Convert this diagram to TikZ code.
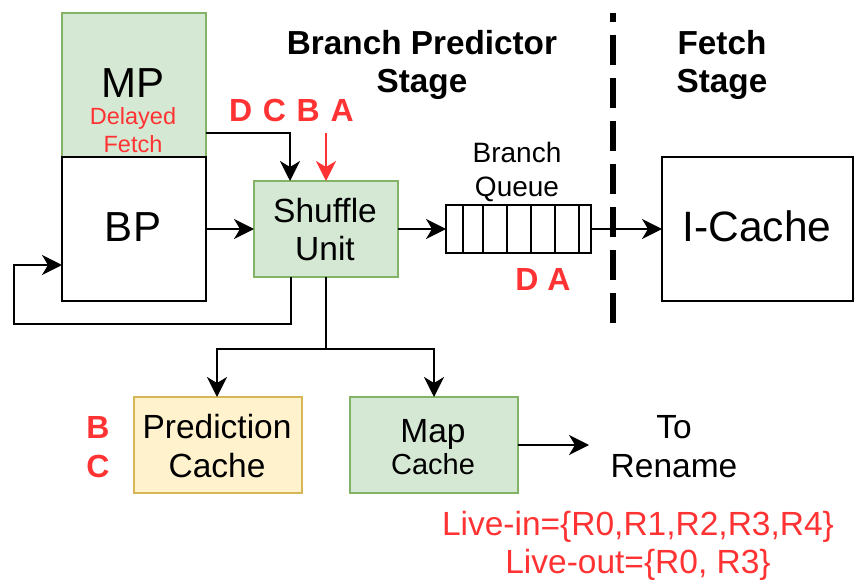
\documentclass[tikz,border=0pt]{standalone}
\usepackage{fontspec}
\setmainfont{Liberation Sans}
\usetikzlibrary{arrows.meta}
\definecolor{gfill}{HTML}{D5E8D4}
\definecolor{gline}{HTML}{82B366}
\definecolor{yfill}{HTML}{FFF2CC}
\definecolor{yline}{HTML}{D6B656}
\definecolor{redtxt}{HTML}{FF3333}
\tikzset{
  box/.style={draw=black, line width=2pt, minimum width=#1, inner sep=0pt, outer sep=0pt},
  gbox/.style={draw=gline, fill=gfill, line width=2pt, inner sep=0pt, outer sep=0pt},
  ybox/.style={draw=yline, fill=yfill, line width=2pt, inner sep=0pt, outer sep=0pt},
  conn/.style={line width=2pt, -{Stealth[length=20pt,width=20pt,inset=6pt]}},
  wire/.style={line width=2pt},
  txt/.style={inner sep=0pt, anchor=base},
  big/.style={txt, font=\fontsize{42}{48}\selectfont},
  mid/.style={txt, font=\fontsize{33.5}{38}\selectfont},
  redbold/.style={txt, text=redtxt, font=\fontsize{32}{37}\selectfont\bfseries},
  title/.style={txt, font=\fontsize{33.3}{38}\selectfont\bfseries},
}
\begin{document}
\begin{tikzpicture}[x=1pt,y=-1pt]
\useasboundingbox (0,0) rectangle (854,580);
% boxes
\node[gbox, minimum width=144pt, minimum height=144pt] (mp) at (134,85) {};
\node[box=144pt, minimum height=144pt] (bp) at (134,229) {};
\node[gbox, minimum width=144pt, minimum height=96pt] (su) at (326,229) {};
\node[box=145pt, minimum height=48pt] (bq) at (518.5,229) {};
\node[box=191pt, minimum height=144pt] (ic) at (757.5,229) {};
\node[ybox, minimum width=168pt, minimum height=96pt] (pc) at (218,445) {};
\node[gbox, minimum width=168pt, minimum height=96pt] (mc) at (434,445) {};
% queue dividers
\foreach \xx in {463,483,507,531,555,579}
  \draw[line width=2pt] (\xx,205) -- (\xx,253);
% texts
\node[big] (mpt) at (133,98) {MP};
\node[txt, text=redtxt, font=\fontsize{23.5}{27}\selectfont] (dl1) at (133,125) {Delayed};
\node[txt, text=redtxt, font=\fontsize{23.5}{27}\selectfont] (dl2) at (133,153) {Fetch};
\node[big] (bpt) at (133,242) {BP};
\node[mid] (su1) at (325,223) {Shuffle};
\node[mid] (su2) at (325,260) {Unit};
\node[big, font=\fontsize{42.5}{48}\selectfont] (ict) at (757,242) {I-Cache};
\node[txt, font=\fontsize{28}{32}\selectfont] (bq1) at (517,163) {Branch};
\node[txt, font=\fontsize{28}{32}\selectfont] (bq2) at (517,197) {Queue};
\node[mid] (pc1) at (217,438) {Prediction};
\node[mid] (pc2) at (217,477) {Cache};
\node[mid] (mc1) at (433,442) {Map};
\node[txt, font=\fontsize{29}{33}\selectfont] (mc2) at (433,474) {Cache};
\node[mid] (to1) at (674,438) {To};
\node[mid] (to2) at (674,477) {Rename};
\node[title] (st1) at (422,55) {Branch Predictor};
\node[title] (st2) at (422,93) {Stage};
\node[title] (ft1) at (722,55) {Fetch};
\node[title] (ft2) at (722,93) {Stage};
\node[redbold, anchor=base west] (dcba) at (229,122) {D\,\,C\,\,B\,\,A};
\node[redbold] (da) at (543,290) {D A};
\node[redbold] (lb) at (98,438) {B};
\node[redbold] (lc) at (98,477) {C};
\node[txt, text=redtxt, font=\fontsize{33.5}{38}\selectfont] (li) at (638,535) {Live-in=\{R0,R1,R2,R3,R4\}};
\node[txt, text=redtxt, font=\fontsize{33.5}{38}\selectfont] (lo) at (638,573) {Live-out=\{R0, R3\}};
% stage divider
\coordinate (dtop) at (613,13);
\coordinate (dbot) at (613,325);
\draw[line width=6.5pt, dash pattern=on 30pt off 13pt, dash phase=21pt] (dtop) -- (dbot);
% connectors
\draw[conn] (mp.east |- 0,133) -| (su.north -| 290,0);
\draw[conn, draw=redtxt, fill=redtxt] (326,133) -- (su.north);
\draw[conn] (bp.east) -- (su.west);
\draw[conn] (su.east) -- (bq.west);
\draw[conn] (bq.east) -- (ic.west);
\coordinate (fb1) at (291,324);
\coordinate (fb2) at (14,324);
\coordinate (fb3) at (14,265);
\draw[conn] (su.south -| fb1) -- (fb1) -- (fb2) -- (fb3) -- (bp.west |- fb3);
\coordinate (sp) at (326,349);
\draw[wire] (su.south) -- (sp);
\draw[conn] (sp) -| (pc.north -| 217,0);
\draw[conn] (sp) -| (mc.north);
\coordinate (ren) at (589,445);
\draw[conn] (mc.east) -- (ren);
\end{tikzpicture}
\end{document}
